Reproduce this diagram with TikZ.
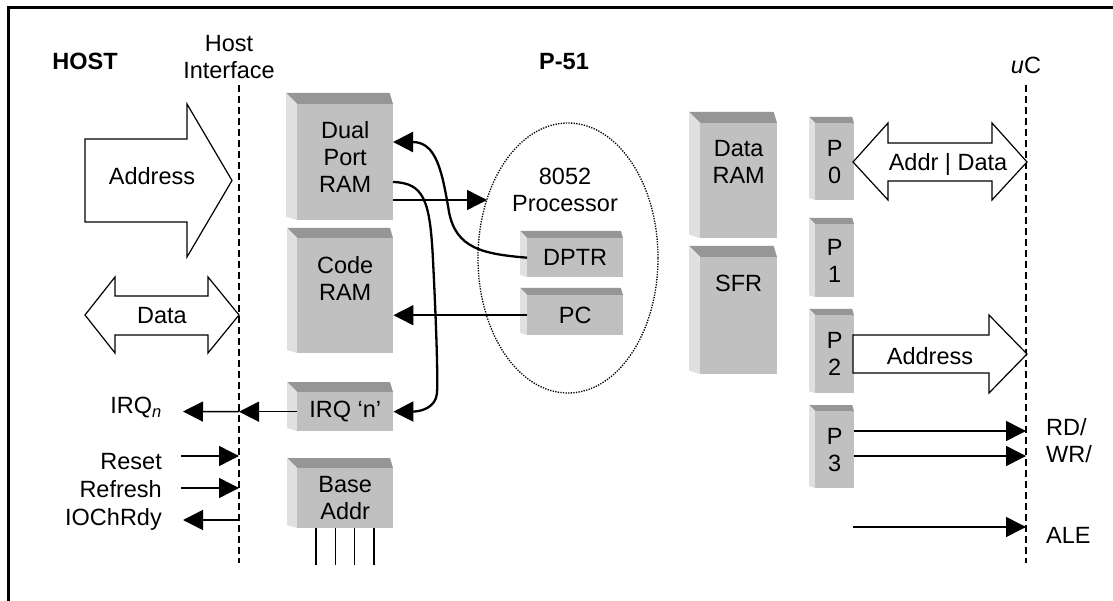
\documentclass[tikz,border=0pt]{standalone}
\usepackage{fontspec}
\setmainfont{Liberation Sans}
\usetikzlibrary{arrows.meta,shapes.geometric,calc}
\definecolor{cubefrontc}{RGB}{192,192,192}
\definecolor{cubetopc}{RGB}{150,150,150}
\definecolor{cubesidec}{RGB}{224,224,224}
\tikzset{
  lbl/.style={inner sep=0pt, font=\fontsize{23.5}{27}\selectfont, align=center},
  blbl/.style={lbl, font=\fontsize{23.5}{27}\selectfont\bfseries},
  frontface/.style={fill=cubefrontc, inner sep=0pt, anchor=north west, align=center, font=\fontsize{23.5}{27}\selectfont},
  arr/.style={line width=1.5pt, -{Triangle[length=20pt,width=20pt]}},
  curvearr/.style={line width=2.3pt, -{Triangle[length=20pt,width=20pt]}},
  plainline/.style={line width=1.5pt},
  blockarrow/.style={draw, line width=1.2pt, fill=white, line join=miter},
  iface/.style={line width=1.8pt, dash pattern=on 7pt off 4pt},
  procell/.style={draw, ellipse, line width=1.3pt, dash pattern=on 1.3pt off 1.3pt, inner sep=0pt},
}
% #1 name, #2 x1, #3 y1, #4 x2, #5 y2, #6 depth, #7 text
\newcommand\cubebox[7]{%
  \fill[cubetopc] (#2-#6,#3-#6) -- (#4-0.3*#6,#3-#6) -- (#4,#3) -- (#2,#3) -- cycle;
  \fill[cubesidec] (#2-#6,#3-#6) -- (#2,#3) -- (#2,#5) -- (#2-#6,#5-0.3*#6) -- cycle;
  \node[frontface, minimum width={(#4-#2)*1pt}, minimum height={(#5-#3)*1pt}] (#1) at (#2,#3) {#7};
}
\begin{document}
\begin{tikzpicture}[x=1pt,y=-1pt]
\useasboundingbox (0,0) rectangle (1113,601);
\fill[white] (0,0) rectangle (1113,601);
% frame
\draw[line width=3pt] (8,601) -- (8,8) -- (1113,8);

% titles
\node[blbl, anchor=north] (hosttitle) at (85,53) {HOST};
\node[lbl, anchor=north] (hitxt) at (229,35) {Host\\Interface};
\node[blbl, anchor=north] (p51) at (564,53) {P-51};
\node[lbl, anchor=north] (uctxt) at (1026,57) {\itshape u\upshape C};

% interface lines
\coordinate (hiT) at (239,85);
\coordinate (hiB) at (239,563);
\coordinate (ucT) at (1026,85);
\coordinate (ucB) at (1026,563);
\draw[iface] (hiT) -- (hiB);
\draw[iface] (ucT) -- (ucB);

% processor ellipse
\node[procell, minimum width=180pt, minimum height=270pt] (proc) at (568,258) {};
\node[lbl, anchor=north] (proctxt) at (565,168) {8052\\Processor};

% boxes
\cubebox{dpram}{297}{104}{393}{220}{11}{}
\cubebox{coderam}{297}{238}{393}{353}{10}{}
\cubebox{irq}{297}{392}{393}{431}{10}{IRQ ‘n’}
\cubebox{base}{297}{468}{393}{528}{10}{Base\\Addr}
\cubebox{dptr}{527}{238}{623}{277}{7}{DPTR}
\cubebox{pc}{527}{295}{623}{335}{7}{PC}
\cubebox{dataram}{700}{123}{777}{238}{11}{}
\cubebox{sfr}{700}{257}{777}{374}{11}{}
\cubebox{pzero}{815}{123}{854}{200}{6}{P\\0}
\cubebox{pone}{815}{224}{854}{297}{6}{P\\1}
\cubebox{ptwo}{815}{315}{854}{393}{6}{P\\2}
\cubebox{pthree}{815}{411}{854}{488}{6}{P\\3}

\node[lbl, anchor=north] (dpramtxt) at (dpram.north |- 0,121) {Dual\\Port\\RAM};
\node[lbl, anchor=north] (coderamtxt) at (coderam.north |- 0,256) {Code\\RAM};
\node[lbl, anchor=north] (dataramtxt) at (dataram.north |- 0,140) {Data\\RAM};
\node[lbl, anchor=north] (sfrtxt) at (sfr.north |- 0,275) {SFR};

% base address lines
\foreach \k in {1,...,4}
  \draw[plainline] ($(base.south west)+(\k*19.2,0)$) -- ++(0,37);

% block arrows (host side)
\draw[blockarrow] (85,139) -- (187,139) -- (187,104) -- (232,180.5) -- (187,257) -- (187,222) -- (85,222) -- cycle;
\node[lbl, anchor=north] (addrtxt) at (152,167) {Address};
\draw[blockarrow] (85,315) -- (115,277) -- (115,296) -- (208,296) -- (208,277) -- (239,315) -- (208,353) -- (208,335) -- (115,335) -- (115,353) -- cycle;
\node[lbl, anchor=north] (datatxt) at (162,307) {Data};

% block arrows (uC side)
\draw[blockarrow] (853,162) -- (888,123) -- (888,143) -- (992,143) -- (992,123) -- (1027,162) -- (992,200) -- (992,181) -- (888,181) -- (888,200) -- cycle;
\node[lbl, anchor=north] (adtxt) at (948,153) {Addr | Data};
\draw[blockarrow] (853,335) -- (989,335) -- (989,315) -- (1027,354) -- (989,393) -- (989,373) -- (853,373) -- cycle;
\node[lbl, anchor=north] (addr2txt) at (930,347) {Address};

% internal connectors
\coordinate (procL) at (487,200);
\coordinate (dpIn) at (393,142);
\coordinate (dpOut) at (393,182);
\draw[arr] (dpram.east |- procL) -- (procL);
\draw[arr] (pc.west) -- (coderam.east |- pc.west);
\draw[curvearr] (dptr.west) .. controls (482,254) and (456,248) .. (449,212)
   .. controls (442,170) and (436,142) .. (dpIn);
\draw[curvearr] (dpOut) .. controls (424,183) and (430,200) .. (433,260)
   .. controls (436,320) and (438,375) .. (437,393)
   .. controls (436,407) and (422,411.5) .. (irq.east);

% host-side signals
\coordinate (irqLine) at (irq.west -| hiT);
\coordinate (irqEnd) at (183,411.5);
\draw[arr] (irq.west) -- (irqLine);
\draw[arr] (irqLine) -- (irqEnd);
\node[lbl, anchor=north east] (irqtxt) at (162,397) {IRQ\textsubscript{\itshape n}};

\coordinate (resetA) at (181,456);
\coordinate (refreshA) at (181,488);
\coordinate (iochA) at (183,520);
\draw[arr] (resetA) -- (resetA -| hiT);
\draw[arr] (refreshA) -- (refreshA -| hiT);
\draw[arr] (iochA -| hiT) -- (iochA);
\node[lbl, anchor=north east] (resettxt) at (162,453) {Reset};
\node[lbl, anchor=north east] (refreshtxt) at (162,480) {Refresh};
\node[lbl, anchor=north east] (iochtxt) at (162,508) {IOChRdy};

% uC-side signals
\coordinate (rdA) at (854,431);
\coordinate (wrA) at (854,456);
\coordinate (aleA) at (853,527);
\draw[arr] (rdA) -- (rdA -| ucT);
\draw[arr] (wrA) -- (wrA -| ucT);
\draw[arr] (aleA) -- (aleA -| ucT);
\node[lbl, anchor=north west, align=left] (rdtxt) at (1046,418) {RD/\\WR/};
\node[lbl, anchor=north west] (aletxt) at (1046,527) {ALE};
\end{tikzpicture}
\end{document}
